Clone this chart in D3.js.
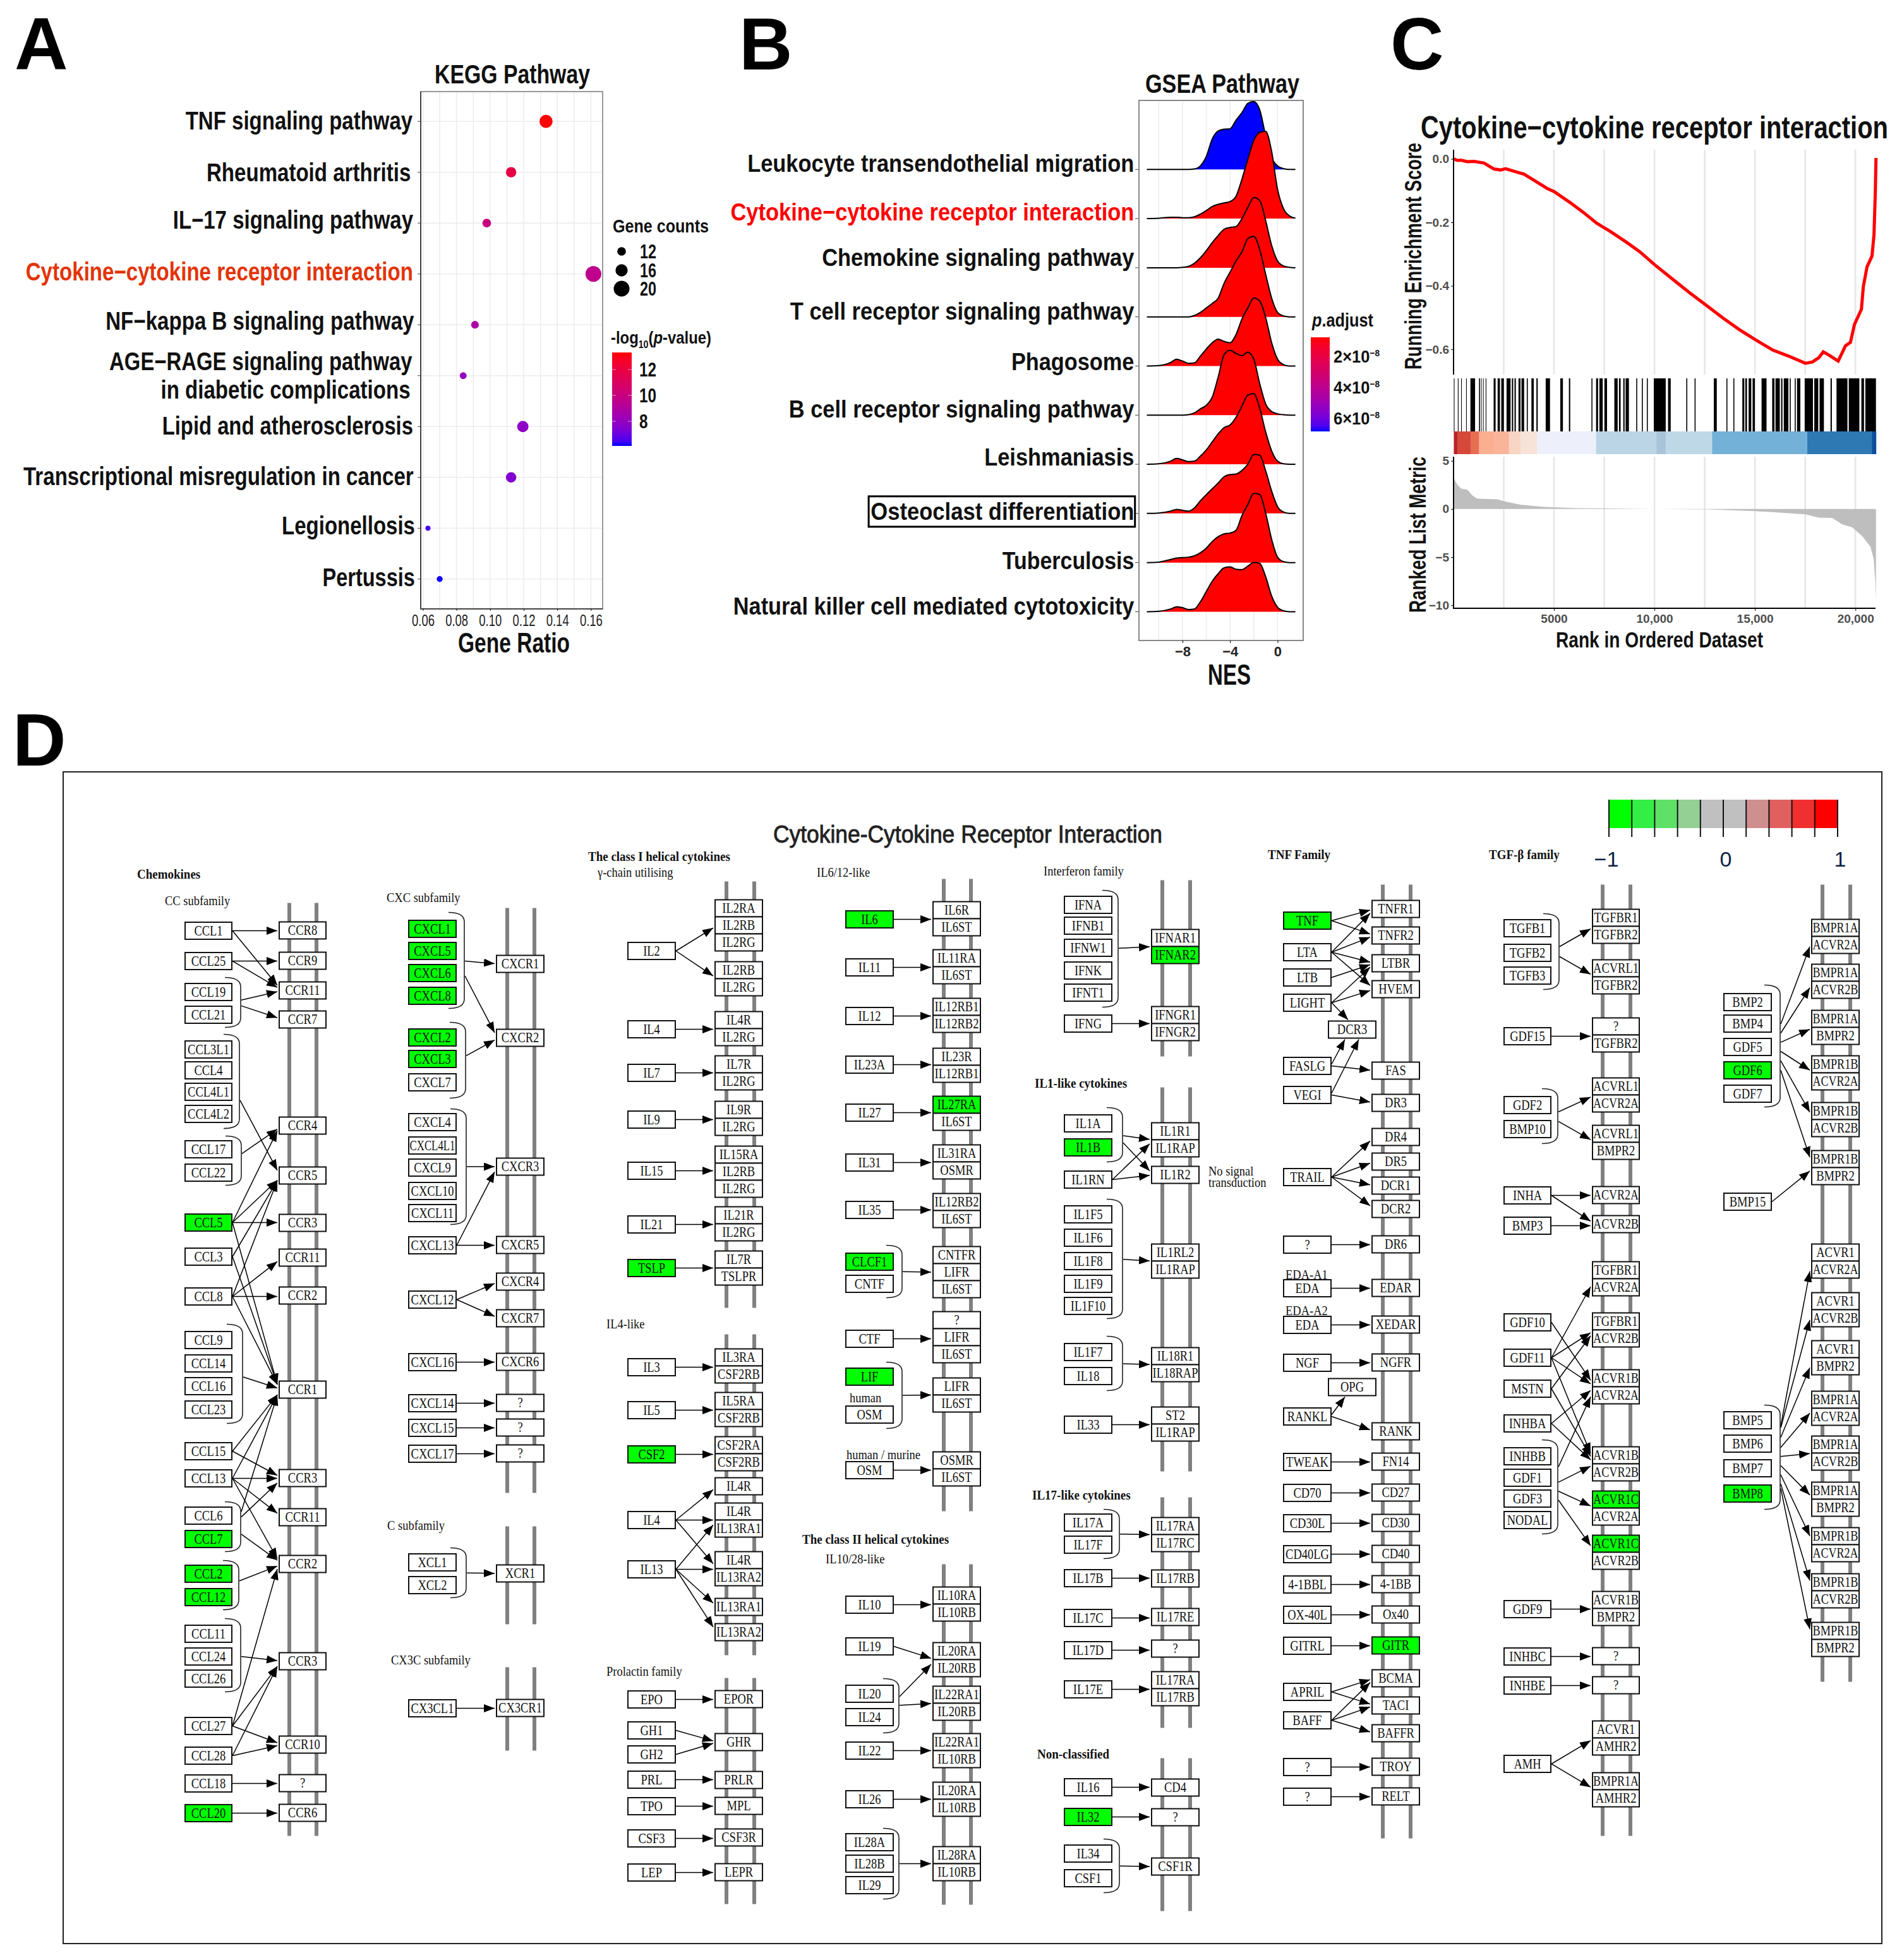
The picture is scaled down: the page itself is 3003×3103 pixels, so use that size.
<!DOCTYPE html>
<html><head><meta charset="utf-8">
<style>html,body{margin:0;padding:0;background:#fff}svg{display:block}</style>
<script src="https://cdn.jsdelivr.net/npm/d3@7/dist/d3.min.js"></script></head><body>
<svg id="c" width="3003" height="3103"></svg>
<script>
// ---------- PANEL A DATA ----------
const keggPathways=["TNF signaling pathway","Rheumatoid arthritis","IL−17 signaling pathway","Cytokine−cytokine receptor interaction","NF−kappa B signaling pathway","AGE−RAGE signaling pathway","Lipid and atherosclerosis","Transcriptional misregulation in cancer","Legionellosis","Pertussis"];
const keggRatio=[0.1333,0.1125,0.098,0.1615,0.091,0.084,0.1195,0.1125,0.063,0.07];
const keggCounts=[17,14,12,20,11,10,15,14,8,9];
const keggLogP=[13.3,11.8,10.0,9.6,8.8,8.0,7.8,7.5,6.5,6.1];
const keggTicks=[0.06,0.08,0.10,0.12,0.14,0.16];
// ---------- PANEL B DATA ----------
const gseaPathways=["Leukocyte transendothelial migration","Cytokine−cytokine receptor interaction","Chemokine signaling pathway","T cell receptor signaling pathway","Phagosome","B cell receptor signaling pathway","Leishmaniasis","Osteoclast differentiation","Tuberculosis","Natural killer cell mediated cytotoxicity"];
const gseaPadj=[6.86e-8,7.8e-9,7.8e-9,7.8e-9,7.8e-9,7.8e-9,7.8e-9,7.8e-9,7.8e-9,7.8e-9];
const nesGrid=[-11,-10,-9,-8.5,-8,-7.5,-7,-6.5,-6,-5.5,-5,-4.5,-4,-3.5,-3,-2.5,-2,-1.5,-1,-0.5,0,0.5,1,1.5];
const densLeukocyte=[0,0,0,0,0,0,1,8,29,68,86,90,91,110,127,148,152,133,75,26,8,2,0,0];
const densCytokine=[0,1,3,3,2,2,4,10,18,27,32,35,38,50,88,133,175,193,195,150,65,22,6,1];
const densChemokine=[0,0,0,0,1,3,10,22,38,56,72,86,90,92,110,135,157,150,105,50,15,4,1,0];
const densTcell=[0,0,0,0,0,0,3,10,20,30,42,75,100,125,145,175,180,150,95,42,10,2,0,0];
const densPhagosome=[0,1,8,15,11,6,7,22,38,52,60,55,52,70,105,130,152,145,108,52,15,3,0,0];
const densBcell=[0,0,0,0,0,1,5,14,22,40,85,135,145,138,133,141,125,70,25,8,3,1,0,0];
const densLeish=[0,1,7,13,10,6,7,18,32,50,68,82,88,105,130,155,158,125,72,30,7,1,0,0];
const densOsteo=[0,1,5,9,7,5,12,28,42,55,68,82,87,88,96,110,132,130,95,50,15,3,0,0];
const densTb=[0,1,7,10,11,12,15,22,32,47,58,64,66,72,105,130,155,152,110,52,12,2,0,0];
const densNK=[0,1,6,11,9,5,6,22,45,68,85,98,100,95,94,102,110,108,78,35,10,2,0,0];
// ---------- PANEL C DATA ----------
const esRank=[16,198,363,693,1023,1518,2013,2343,2591,3168,3498,3993,4653,5000,5809,6469,7129,7789,8614,9274,10000,10924,11749,12492,13399,14224,15000,15875,16700,17508,17855,18185,18399,18680,19142,19505,19752,19950,20297,20396,20578,20825,20924,20990,21023];
const esScore=[0,-.005,-.004,-.009,-.008,-.013,-.032,-.035,-.031,-.042,-.048,-.067,-.093,-.103,-.138,-.169,-.203,-.228,-.263,-.293,-.333,-.380,-.422,-.457,-.501,-.538,-.569,-.602,-.622,-.644,-.640,-.626,-.608,-.618,-.637,-.589,-.578,-.522,-.474,-.401,-.340,-.306,-.239,-.105,.003];
const hitBlocks=[[16,50],[215,250],[380,412],[627,660],[842,1073],[1270,1320],[1370,1400],[1470,1500],[1600,1634],[1997,2095],[2195,2310],[2376,2508],[2640,2838],[2904,2970],[3036,3102],[3234,3333],[3382,3514],[3646,3696],[3877,3993],[4125,4191],[4587,4802],[5313,5445],[5742,5808],[6864,6913],[7095,7194],[7260,7425],[7508,7640],[8003,8168],[8234,8316],[8448,8514],[8563,8728],[9092,9141],[9372,9421],[9620,9669],[9966,10560],[10676,10808],[11583,11633],[11996,12045],[12953,13101],[13580,13629],[13926,13976],[14372,14471],[14520,14603],[14685,14817],[14883,15000],[15329,15576],[15857,15972],[16022,16236],[16302,16368],[16434,16665],[16731,16781],[16979,17028],[17094,17259],[17474,17886],[17952,18150],[18216,18431],[18761,18827],[19058,19602],[19668,20196],[20295,20427],[20493,21021]];
const bandEdges=[16,198,858,1270,2013,2756,3333,4158,7095,10098,10560,12870,17606,20823,21021];
const bandColors=["#b8242a","#d6493a","#e76f51","#fcae91","#f9b49a","#f9d5c4","#f7e3d8","#edf0fb","#bcd5e6","#a8c4d8","#bfd8e8","#74b1d8","#2e78b4","#0c4e9b"];
const metricRank=[16,198,396,693,940,1188,2178,2508,3333,4488,6138,8613,10000,12739,15050,17508,18185,18845,19340,19835,20330,20743,20908,20990,21023];
const metricValue=[3.2,2.5,2.1,2.0,1.4,1.07,1.0,.8,.45,.22,.09,.04,0,-.05,-.22,-.55,-.9,-.93,-1.6,-1.9,-2.8,-3.9,-5.2,-7.5,-9.6];
const rankTicks=[5000,10000,15000,20000], rankGrid=[2500,5000,7500,10000,12500,15000,17500,20000];
// ---------- PANEL D DATA (gene names) ----------
const downGenes=["CCL5","CCL7","CCL2","CCL12","CCL20","CXCL1","CXCL5","CXCL6","CXCL8","CXCL2","CXCL3","TSLP","CSF2","IL6","IL27RA","CLCF1","LIF","IFNAR2","IL1B","IL32","TNF","GITR","GDF6","BMP8","ACVR1C"];
const ccLigands=["CCL1","CCL25","CCL19","CCL21","CCL3L1","CCL4","CCL4L1","CCL4L2","CCL17","CCL22","CCL5","CCL3","CCL8","CCL9","CCL14","CCL16","CCL23","CCL15","CCL13","CCL6","CCL7","CCL2","CCL12","CCL11","CCL24","CCL26","CCL27","CCL28","CCL18","CCL20"];
const ccReceptors=["CCR8","CCR9","CCR11","CCR7","CCR4","CCR5","CCR3","CCR11","CCR2","CCR1","CCR3","CCR11","CCR2","CCR3","CCR10","?","CCR6"];
const cxcLigands=["CXCL1","CXCL5","CXCL6","CXCL8","CXCL2","CXCL3","CXCL7","CXCL4","CXCL4L1","CXCL9","CXCL10","CXCL11","CXCL13","CXCL12","CXCL16","CXCL14","CXCL15","CXCL17","XCL1","XCL2","CX3CL1"];
const cxcReceptors=["CXCR1","CXCR2","CXCR3","CXCR5","CXCR4","CXCR7","CXCR6","?","?","?","XCR1","CX3CR1"];
const class1Ligands=["IL2","IL4","IL7","IL9","IL15","IL21","TSLP","IL3","IL5","CSF2","IL4","IL13","EPO","GH1","GH2","PRL","TPO","CSF3","LEP"];
const class1Receptors=["IL2RA/IL2RB/IL2RG","IL2RB/IL2RG","IL4R/IL2RG","IL7R/IL2RG","IL9R/IL2RG","IL15RA/IL2RB/IL2RG","IL21R/IL2RG","IL7R/TSLPR","IL3RA/CSF2RB","IL5RA/CSF2RB","CSF2RA/CSF2RB","IL4R","IL4R/IL13RA1","IL4R/IL13RA2","IL13RA1","IL13RA2","EPOR","GHR","PRLR","MPL","CSF3R","LEPR"];
const il6Ligands=["IL6","IL11","IL12","IL23A","IL27","IL31","IL35","CLCF1","CNTF","CTF","LIF","OSM","OSM","IL10","IL19","IL20","IL24","IL22","IL26","IL28A","IL28B","IL29"];
const il6Receptors=["IL6R/IL6ST","IL11RA/IL6ST","IL12RB1/IL12RB2","IL23R/IL12RB1","IL27RA/IL6ST","IL31RA/OSMR","IL12RB2/IL6ST","CNTFR/LIFR/IL6ST","?/LIFR/IL6ST","LIFR/IL6ST","OSMR/IL6ST","IL10RA/IL10RB","IL20RA/IL20RB","IL22RA1/IL20RB","IL22RA1/IL10RB","IL20RA/IL10RB","IL28RA/IL10RB"];
const ifnLigands=["IFNA","IFNB1","IFNW1","IFNK","IFNT1","IFNG","IL1A","IL1B","IL1RN","IL1F5","IL1F6","IL1F8","IL1F9","IL1F10","IL1F7","IL18","IL33","IL17A","IL17F","IL17B","IL17C","IL17D","IL17E","IL16","IL32","IL34","CSF1"];
const ifnReceptors=["IFNAR1/IFNAR2","IFNGR1/IFNGR2","IL1R1/IL1RAP","IL1R2","IL1RL2/IL1RAP","IL18R1/IL18RAP","ST2/IL1RAP","IL17RA/IL17RC","IL17RB","IL17RE","?","IL17RA/IL17RB","CD4","?","CSF1R"];
const tnfLigands=["TNF","LTA","LTB","LIGHT","FASLG","VEGI","TRAIL","?","EDA","EDA","NGF","RANKL","TWEAK","CD70","CD30L","CD40LG","4-1BBL","OX-40L","GITRL","APRIL","BAFF","?","?"];
const tnfReceptors=["TNFR1","TNFR2","LTBR","HVEM","FAS","DR3","DR4","DR5","DCR1","DCR2","DR6","EDAR","XEDAR","NGFR","RANK","FN14","CD27","CD30","CD40","4-1BB","Ox40","GITR","BCMA","TACI","BAFFR","TROY","RELT"];
const tnfDecoys=["DCR3","OPG"];
const tgfLigands=["TGFB1","TGFB2","TGFB3","GDF15","GDF2","BMP10","INHA","BMP3","GDF10","GDF11","MSTN","INHBA","INHBB","GDF1","GDF3","NODAL","GDF9","INHBC","INHBE","AMH"];
const tgfReceptors=["TGFBR1/TGFBR2","ACVRL1/TGFBR2","?/TGFBR2","ACVRL1/ACVR2A","ACVRL1/BMPR2","ACVR2A","ACVR2B","TGFBR1/ACVR2A","TGFBR1/ACVR2B","ACVR1B/ACVR2A","ACVR1B/ACVR2B","ACVR1C/ACVR2A","ACVR1C/ACVR2B","ACVR1B/BMPR2","?","?","ACVR1/AMHR2","BMPR1A/AMHR2"];
const bmpLigands=["BMP2","BMP4","GDF5","GDF6","GDF7","BMP15","BMP5","BMP6","BMP7","BMP8"];
const bmpReceptors=["BMPR1A/ACVR2A","BMPR1A/ACVR2B","BMPR1A/BMPR2","BMPR1B/ACVR2A","BMPR1B/ACVR2B","BMPR1B/BMPR2","ACVR1/ACVR2A","ACVR1/ACVR2B","ACVR1/BMPR2","BMPR1A/ACVR2A","BMPR1A/ACVR2B","BMPR1A/BMPR2","BMPR1B/ACVR2A","BMPR1B/ACVR2B","BMPR1B/BMPR2"];
// interaction edges: source>target (#n = nth box with that name in the column, { = bracket)
const ccEdges=["CCL1>CCR8","CCL1>CCR11","CCL25>CCR9","CCL25>CCR11","{CCL19>CCR11","{CCL19>CCR7","{CCL3L1>CCR5","{CCL17>CCR4","CCL5>CCR4","CCL5>CCR5","CCL5>CCR3","CCL5>CCR1","CCL3>CCR5","CCL3>CCR1","CCL8>CCR5","CCL8>CCR11#2","CCL8>CCR2","CCL8>CCR1","{CCL9>CCR1","CCL15>CCR1","CCL15>CCR3#2","CCL13>CCR1","CCL13>CCR3#2","CCL13>CCR11#3","CCL13>CCR2#2","{CCL6>CCR1","{CCL6>CCR3#2","{CCL6>CCR2#2","{CCL2>CCR2#2","{CCL11>CCR3#3","CCL27>CCR2#2","CCL27>CCR3#3","CCL27>CCR10","CCL28>CCR3#3","CCL28>CCR10","CCL18>?","CCL20>CCR6"];
const cxcEdges=["{CXCL1>CXCR1","{CXCL1>CXCR2","{CXCL2>CXCR2","{CXCL4>CXCR3","CXCL13>CXCR3","CXCL13>CXCR5","CXCL12>CXCR4","CXCL12>CXCR7","CXCL16>CXCR6","CXCL14>?","CXCL15>?#2","CXCL17>?#3","{XCL1>XCR1","CX3CL1>CX3CR1"];
const class1Edges=["IL2>IL2RA","IL2>IL2RB","IL4>IL4R","IL7>IL7R","IL9>IL9R","IL15>IL15RA","IL21>IL21R","TSLP>IL7R#2","IL3>IL3RA","IL5>IL5RA","CSF2>CSF2RA","IL4#2>IL4R#2","IL4#2>IL4R#3","IL4#2>IL4R#4","IL13>IL4R#3","IL13>IL4R#4","IL13>IL13RA1","IL13>IL13RA2","EPO>EPOR","GH1>GHR","GH2>GHR","PRL>PRLR","TPO>MPL","CSF3>CSF3R","LEP>LEPR"];
const il6Edges=["IL6>IL6R","IL11>IL11RA","IL12>IL12RB1","IL23A>IL23R","IL27>IL27RA","IL31>IL31RA","IL35>IL12RB2","{CLCF1>CNTFR","CTF>?","{LIF>LIFR","OSM#2>OSMR","IL10>IL10RA","IL19>IL20RA","{IL20>IL20RA","{IL20>IL22RA1","IL22>IL22RA1#2","IL26>IL20RA#2","{IL28A>IL28RA"];
const ifnEdges=["{IFNA>IFNAR1","IFNG>IFNGR1","{IL1A>IL1R1","{IL1A>IL1R2","IL1RN>IL1R1","IL1RN>IL1R2","{IL1F5>IL1RL2","{IL1F7>IL18R1","IL33>ST2","{IL17A>IL17RA","IL17B>IL17RB","IL17C>IL17RE","IL17D>?","IL17E>IL17RA#2","IL16>CD4","IL32>?#2","{IL34>CSF1R"];
const tnfEdges=["TNF>TNFR1","TNF>TNFR2","LTA>TNFR1","LTA>TNFR2","LTA>LTBR","LTA>HVEM","LTB>LTBR","LIGHT>LTBR","LIGHT>HVEM","LIGHT>DCR3","FASLG>DCR3","FASLG>FAS","VEGI>DCR3","VEGI>DR3","TRAIL>DR4","TRAIL>DR5","TRAIL>DCR1","TRAIL>DCR2","?>DR6","EDA>EDAR","EDA#2>XEDAR","NGF>NGFR","RANKL>OPG","RANKL>RANK","TWEAK>FN14","CD70>CD27","CD30L>CD30","CD40LG>CD40","4-1BBL>4-1BB","OX-40L>Ox40","GITRL>GITR","APRIL>BCMA","APRIL>TACI","BAFF>BCMA","BAFF>TACI","BAFF>BAFFR","?#2>TROY","?#3>RELT"];
const tgfEdges=["{TGFB1>TGFBR1","{TGFB1>ACVRL1","GDF15>?","{GDF2>ACVRL1#2","{GDF2>ACVRL1#3","INHA>ACVR2A","INHA>ACVR2B","BMP3>ACVR2B","GDF10>ACVR1B","GDF11>TGFBR1#2","GDF11>TGFBR1#3","GDF11>ACVR1B","GDF11>ACVR1B#2","MSTN>TGFBR1#3","MSTN>ACVR1B#2","INHBA>ACVR1B","INHBA>ACVR1B#2","{INHBB>ACVR1B","{INHBB>ACVR1B#2","{INHBB>ACVR1C","{INHBB>ACVR1C#2","GDF9>ACVR1B#3","INHBC>?#2","INHBE>?#3","AMH>ACVR1","AMH>BMPR1A"];
const bmpEdges=["{BMP2>BMPR1A","{BMP2>BMPR1A#2","{BMP2>BMPR1A#3","{BMP2>BMPR1B","{BMP2>BMPR1B#2","{BMP2>BMPR1B#3","BMP15>BMPR1B#3","{BMP5>ACVR1","{BMP5>ACVR1#2","{BMP5>ACVR1#3","{BMP5>BMPR1A#4","{BMP5>BMPR1A#5","{BMP5>BMPR1A#6","{BMP5>BMPR1B#4","{BMP5>BMPR1B#5","{BMP5>BMPR1B#6"];
const legendScale=["#00ff00","#33ee44","#5fe066","#94cf94","#c0c0c0","#c0c0c0","#cf8f8f","#e06060","#f03030","#ff0000"];

// ---------- LAYOUT (pixel placement of the diagram, not data) ----------
const keggLayout=[
 {names:ccLigands,recs:ccReceptors,edges:ccEdges,ligX:293,recX:442,w:74,
  ligY:[1472,1520,1569,1605,1660,1693,1727,1762,1818,1855,1934,1988,2051,2120,2157,2193,2230,2296,2339,2398,2435,2490,2527,2585,2621,2656,2731,2778,2822,2869],
  recY:[1458,1506,1553,1599,1767,1846,1921,1976,2036,2185,2325,2387,2461,2615,2747,2808,2855],rails:[458,501],spans:[[1428,2905]],
  braces:[["CCL19",381,1546,1625],["CCL3L1",379,1636,1785],["CCL17",382,1797,1875],["CCL9",384,2095,2252],["CCL6",381,2376,2455],["CCL2",378,2469,2547],["CCL11",381,2561,2677]]},
 {names:cxcLigands,recs:cxcReceptors,edges:cxcEdges,ligX:647,recX:786,w:75,
  ligY:[1469,1504,1539,1575,1641,1675,1712,1775,1812,1847,1884,1919,1970,2056,2155,2220,2259,2300,2472,2508,2703],
  recY:[1511,1628,1832,1956,2014,2072,2141,2206,2245,2286,2476,2689],rails:[803,846],spans:[[1436,2362],[2415,2570],[2638,2770]],
  braces:[["CXCL1",735,1443,1595],["CXCL2",737,1617,1737],["CXCL4",738,1754,1937],["XCL1",738,2449,2528]]},
 {names:class1Ligands,recs:class1Receptors,edges:class1Edges,ligX:994,recX:1132,w:75,
  ligY:[1504,1628,1697,1771,1852,1937,2006,2163,2231,2301,2405,2483,2689,2738,2776,2816,2858,2909,2963],
  recY:[1423,1521,1600,1670,1742,1813,1909,1979,2134,2203,2273,2338,2378,2455,2529,2569,2675,2743,2803,2844,2894,2949],rails:[1150,1194],spans:[[1394,2069],[2111,2619],[2655,3013]],braces:[]},
 {names:il6Ligands,recs:il6Receptors,edges:il6Edges,ligX:1339,recX:1477,w:75,
  ligY:[1454,1530,1607,1684,1760,1839,1914,1996,2031,2118,2178,2238,2326,2539,2605,2680,2717,2770,2847,2915,2949,2983],
  recY:[1426,1502,1579,1658,1734,1811,1888,1972,2075,2180,2297,2511,2599,2668,2743,2820,2922],rails:[1494,1537],spans:[[1390,2391],[2475,3014]],
  braces:[["CLCF1",1428,1970,2053],["LIF",1428,2155,2260],["IL20",1423,2656,2742],["IL28A",1423,2893,3005]]},
 {names:ifnLigands,recs:ifnReceptors,edges:ifnEdges,ligX:1685,recX:1823,w:75,
  ligY:[1431,1464,1499,1535,1570,1619,1777,1815,1866,1921,1958,1995,2031,2066,2139,2177,2254,2409,2444,2497,2560,2611,2673,2828,2875,2933,2972],
  recY:[1470,1592,1776,1845,1968,2132,2226,2401,2484,2545,2595,2645,2815,2862,2940],rails:[1840,1884],spans:[[1392,1671],[1720,2328],[2369,2734],[2782,3024]],
  braces:[["IFNA",1770,1408,1593],["IL1A",1777,1752,1838],["IL1F5",1777,1897,2086],["IL1F7",1777,2114,2200],["IL17A",1772,2388,2466],["IL34",1772,2910,2995]]},
 {names:tnfLigands,recs:tnfReceptors,edges:tnfEdges,ligX:2032,recX:2172,w:75,
  ligY:[1456,1506,1546,1586,1686,1732,1862,1969,2038,2096,2156,2241,2313,2362,2410,2459,2507,2555,2604,2677,2722,2796,2843],
  recY:[1424,1466,1510,1551,1680,1731,1785,1824,1862,1899,1955,2024,2082,2142,2251,2299,2348,2396,2445,2493,2541,2590,2642,2685,2729,2782,2829],rails:[2189,2233],spans:[[1399,2909]],braces:[],
  mids:tnfDecoys,midX:2103,midY:[1615,2181]},
 {names:tgfLigands,recs:tgfReceptors,edges:tgfEdges,ligX:2381,recX:2521,w:74,
  ligY:[1468,1507,1543,1639,1748,1786,1891,1939,2092,2148,2197,2252,2304,2338,2371,2405,2546,2621,2667,2791],
  recY:[1438,1518,1610,1705,1780,1877,1923,1996,2077,2167,2289,2359,2429,2518,2607,2653,2723,2805],rails:[2537,2581],spans:[[1399,2905]],
  braces:[["TGFB1",2468,1445,1565],["GDF2",2466,1722,1809],["INHBB",2466,2278,2427]]},
 {names:bmpLigands,recs:bmpReceptors,edges:bmpEdges,ligX:2729,recX:2868,w:75,
  ligY:[1585,1619,1656,1693,1730,1901,2247,2284,2323,2363],
  recY:[1454,1525,1598,1670,1744,1820,1968,2045,2121,2201,2272,2345,2417,2490,2567],rails:[2885,2929],spans:[[1399,2661]],
  braces:[["BMP2",2818,1558,1751],["BMP5",2818,2223,2388]]}
];
const keggHeadings=[["Chemokines",217,1383,1],["CC subfamily",261,1425,0],["CXC subfamily",612,1420,0],["C subfamily",613,2414,0],["CX3C subfamily",619,2627,0],["The class I helical cytokines",931,1355,1],["γ-chain utilising",946,1380,0],["IL6/12-like",1293,1380,0],["IL4-like",960,2095,0],["Prolactin family",960,2645,0],["The class II helical cytokines",1270,2436,1],["IL10/28-like",1307,2467,0],["human",1345,2212,0],["human / murine",1340,2302,0],["Interferon family",1652,1378,0],["IL1-like cytokines",1638,1714,1],["No signal",1913,1853,0],["transduction",1913,1871,0],["TNF Family",2007,1352,1],["EDA-A1",2035,2017,0],["EDA-A2",2035,2074,0],["IL17-like cytokines",1634,2366,1],["Non-classified",1642,2776,1],["TGF-β family",2357,1352,1]];

// ---------- DRAW ----------
const svg=d3.select("#c"), SANS='"Liberation Sans",Arial,sans-serif', SERIF='"Liberation Serif",serif';
const defs=svg.append("defs");
function fit(g,str,x1,x2,cy,size,o={}){
  return g.append("text").attr("x",x1).attr("y",cy+size*0.36).attr("textLength",x2-x1).attr("lengthAdjust","spacingAndGlyphs")
   .attr("font-family",SANS).attr("font-size",size).attr("font-weight",o.weight||"bold").attr("fill",o.fill||"#111").text(str);
}
function panelLetter(s,x,y){svg.append("text").attr("x",x).attr("y",y).attr("font-family",SANS).attr("font-weight","bold").attr("font-size",117).attr("fill","#000").text(s);}
panelLetter("A",23,110);panelLetter("B",1170,110);panelLetter("C",2201,110);panelLetter("D",20,1212);
function gradient(id,c1,c2){const g=defs.append("linearGradient").attr("id",id).attr("x1",0).attr("x2",0).attr("y1",0).attr("y2",1);
 d3.range(0,1.001,.05).forEach(t=>g.append("stop").attr("offset",t).attr("stop-color",d3.interpolateLab(c1,c2)(t)));}
gradient("gradRB","#ff0000","#0000ff");

// ----- Panel A
(function(){
 const zx=v=>v*1160/1568, zy=v=>v*1080/1568, g=svg.append("g");
 const x=d3.scaleLinear().domain([.0587,.167]).range([666,954]);
 const y=d3.scalePoint().domain(keggPathways).range([zy(279),zy(1331)]);
 const r=d3.scaleLinear().domain([8,20]).range([4,12.5]);
 const col=d3.scaleLinear().domain([6.07,13.36]).range(["#0000ff","#ff0000"]).interpolate(d3.interpolateLab);
 d3.range(.06,.1601,.01).forEach(v=>g.append("line").attr("x1",x(v)).attr("x2",x(v)).attr("y1",145).attr("y2",964).attr("stroke","#ececec").attr("stroke-width",1.5));
 keggPathways.forEach(p=>g.append("line").attr("x1",666).attr("x2",954).attr("y1",y(p)).attr("y2",y(p)).attr("stroke","#ececec").attr("stroke-width",1.5));
 g.append("rect").attr("x",666).attr("y",145).attr("width",288).attr("height",819).attr("fill","none").attr("stroke","#999").attr("stroke-width",2);
 g.append("path").attr("d","M666,145V964H954").attr("fill","none").attr("stroke","#444").attr("stroke-width",2);
 keggPathways.forEach((p,i)=>g.append("circle").attr("cx",x(keggRatio[i])).attr("cy",y(p)).attr("r",r(keggCounts[i])).attr("fill",col(keggLogP[i])));
 const ax=g.append("g").attr("transform","translate(0,964)").call(d3.axisBottom(x).tickValues(keggTicks).tickFormat(d3.format(".2f")).tickSize(3).tickPadding(6));
 ax.select(".domain").remove();
 ax.selectAll("text").attr("font-family",SANS).attr("font-size",25).attr("fill","#222").attr("textLength",36).attr("lengthAdjust","spacingAndGlyphs");
 keggPathways.forEach(p=>g.append("line").attr("x1",661).attr("x2",666).attr("y1",y(p)).attr("y2",y(p)).attr("stroke","#444"));
 const spans=[[397,883,276],[442,879,396],[370,884,505],[55,884,623],[226,886,737],[234,882,830],[347,884,978],[50,885,1094],[603,888,1208],[690,888,1327]];
 keggPathways.forEach((p,i)=>{const s=spans[i];fit(g,p,zx(s[0]),zx(s[1]),zy(s[2]),40,{fill:i==3?"#e23408":"#111"});});
 fit(g,"in diabetic complications",zx(344),zx(878),zy(895),40);
 fit(g,"KEGG Pathway",688,934,117,42);
 fit(g,"Gene Ratio",725,902,1017,44);
 fit(g,"Gene counts",970,1122,357,30);
 [12,16,20].forEach((c,i)=>{const cy=[398,428,457][i];g.append("circle").attr("cx",984).attr("cy",cy).attr("r",r(c)).attr("fill","#000");
  fit(g,String(c),1013,1039,cy,31);});
 const t=g.append("text").attr("x",967).attr("y",544).attr("font-family",SANS).attr("font-size",27).attr("font-weight","bold").attr("fill","#111").attr("textLength",159).attr("lengthAdjust","spacingAndGlyphs");
 t.append("tspan").text("-log");t.append("tspan").attr("font-size",16).attr("dy",7).text("10");
 t.append("tspan").attr("dy",-7).text("(");t.append("tspan").attr("font-style","italic").text("p");t.append("tspan").text("-value)");
 g.append("rect").attr("x",969).attr("y",558).attr("width",31).attr("height",148).attr("fill","url(#gradRB)");
 [[12,585],[10,626],[8,667]].forEach(d=>{const s=String(d[0]);fit(g,s,1012,1012+13.5*s.length,d[1],31);
  g.append("line").attr("x1",969).attr("x2",975).attr("y1",d[1]).attr("y2",d[1]).attr("stroke","#fff").attr("opacity",.6);
  g.append("line").attr("x1",994).attr("x2",1000).attr("y1",d[1]).attr("y2",d[1]).attr("stroke","#fff").attr("opacity",.6);});
})();

// ----- Panel B
(function(){
 const zx=v=>1150+v*1000/1568, zy=v=>v*1110/1568, g=svg.append("g");
 const x=d3.scaleLinear().domain([-8,0]).range([zx(1132),zx(1368)]);
 const y=d3.scalePoint().domain(gseaPathways).range([zy(379),zy(1368)]);
 const h=d3.scaleLinear().domain([0,100]).range([0,70.8]);
 const col=d3.scaleLinear().domain([7.8e-9,6.86e-8]).range(["#ff0000","#0000ff"]).interpolate(d3.interpolateLab);
 const dens=[densLeukocyte,densCytokine,densChemokine,densTcell,densPhagosome,densBcell,densLeish,densOsteo,densTb,densNK];
 [-10,-8,-6,-4,-2,0].forEach(v=>g.append("line").attr("x1",x(v)).attr("x2",x(v)).attr("y1",159).attr("y2",1014).attr("stroke","#ececec").attr("stroke-width",1.5));
 gseaPathways.forEach((p,i)=>{
  const b=y(p),pts=nesGrid.map((n,j)=>[x(n),b-h(dens[i][j])]);
  g.append("path").attr("d",d3.area().x(d=>d[0]).y0(b).y1(d=>d[1]).curve(d3.curveMonotoneX)(pts)).attr("fill",col(gseaPadj[i]));
  g.append("path").attr("d",d3.line().curve(d3.curveMonotoneX)(pts)).attr("fill","none").attr("stroke","#000").attr("stroke-width",2);
  g.append("line").attr("x1",1797).attr("x2",1803).attr("y1",b).attr("y2",b).attr("stroke","#444");
 });
 g.append("rect").attr("x",1803).attr("y",159).attr("width",260).attr("height",855).attr("fill","none").attr("stroke","#888").attr("stroke-width",2);
 const ax=g.append("g").attr("transform","translate(0,1014)").call(d3.axisBottom(x).tickValues([-8,-4,0]).tickFormat(d3.format("d")).tickSize(4).tickPadding(5));
 ax.select(".domain").remove();
 ax.selectAll("text").attr("font-family",SANS).attr("font-size",22).attr("font-weight","bold").attr("fill","#222");
 const spans=[[52,365],[10,473],[237,575],[158,695],[707,808],[155,915],[640,1022],[358,1143],[685,1253],[17,1355]];
 gseaPathways.forEach((p,i)=>fit(g,p,zx(spans[i][0]),zx(1012),zy(spans[i][1]),38,{fill:i==1?"#f00":"#111"}));
 g.append("rect").attr("x",zx(353)).attr("y",zy(1110)).attr("width",zx(1014)-zx(353)).attr("height",zy(1178)-zy(1110)).attr("fill","none").attr("stroke","#000").attr("stroke-width",3);
 fit(g,"GSEA Pathway",1813,2057,132,42);
 fit(g,"NES",1912,1980,1067,46);
 const t=g.append("text").attr("x",2077).attr("y",517).attr("font-family",SANS).attr("font-size",29).attr("font-weight","bold").attr("textLength",97).attr("lengthAdjust","spacingAndGlyphs").attr("fill","#111");
 t.append("tspan").attr("font-style","italic").text("p");t.append("tspan").text(".adjust");
 g.append("rect").attr("x",2075).attr("y",534).attr("width",30).attr("height",149).attr("fill","url(#gradRB)");
 [[2,564],[4,613],[6,662]].forEach(d=>{
  const l=g.append("text").attr("x",2111).attr("y",d[1]+10).attr("font-family",SANS).attr("font-size",28).attr("font-weight","bold").attr("fill","#111").attr("textLength",73).attr("lengthAdjust","spacingAndGlyphs");
  l.append("tspan").text(d[0]+"×10");l.append("tspan").attr("font-size",15).attr("dy",-10).text("−8");
 });
})();

// ----- Panel C
(function(){
 const g=svg.append("g");
 const x=d3.scaleLinear().domain([5000,20000]).range([2460,2937.2]);
 const y=d3.scaleLinear().domain([0,-.6]).range([251.5,553]);
 const ym=d3.scaleLinear().domain([5,0,-10]).range([729.6,805.8,958.2]);
 [[237,593],[723,963]].forEach(s=>rankGrid.forEach(v=>g.append("line").attr("x1",x(v)).attr("x2",x(v)).attr("y1",s[0]).attr("y2",s[1]).attr("stroke","#e6e6e6").attr("stroke-width",2.5)));
 g.append("path").attr("d",d3.line().x((d,i)=>x(esRank[i])).y(d=>y(d))(esScore)).attr("fill","none").attr("stroke","#f00").attr("stroke-width",5);
 hitBlocks.forEach(b=>g.append("rect").attr("x",x(b[0])).attr("width",x(b[1])-x(b[0])).attr("y",599).attr("height",84).attr("fill","#000"));
 bandColors.forEach((c,i)=>g.append("rect").attr("x",x(bandEdges[i])).attr("width",x(bandEdges[i+1])-x(bandEdges[i])+.5).attr("y",683).attr("height",36).attr("fill",c));
 g.append("path").attr("d",d3.area().x((d,i)=>x(metricRank[i])).y0(ym(0)).y1(d=>ym(d))(metricValue)).attr("fill","#bebebe");
 const lab=s=>s.selectAll("text").attr("font-family",SANS).attr("font-size",19).attr("font-weight","bold").attr("fill","#4d4d4d");
 const a1=g.append("g").attr("transform","translate(2301,0)").call(d3.axisLeft(y).tickValues([0,-.2,-.4,-.6]).tickFormat(d3.format(".1f")).tickSize(4).tickPadding(3));
 a1.select(".domain").remove();lab(a1);
 g.append("line").attr("x1",2301).attr("x2",2301).attr("y1",237).attr("y2",593).attr("stroke","#000").attr("stroke-width",2);
 const a2=g.append("g").attr("transform","translate(2301,0)").call(d3.axisLeft(ym).tickValues([5,0,-5,-10]).tickFormat(d3.format("d")).tickSize(4).tickPadding(3));
 a2.select(".domain").remove();lab(a2);
 g.append("path").attr("d","M2301,723V963H2969").attr("fill","none").attr("stroke","#000").attr("stroke-width",2);
 const a3=g.append("g").attr("transform","translate(0,963)").call(d3.axisBottom(x).tickValues(rankTicks).tickFormat(d3.format(",")).tickSize(4).tickPadding(6));
 a3.select(".domain").remove();a3.selectAll("text").text(d=>d==5000?"5000":d3.format(",")(d));lab(a3);
 fit(g,"Cytokine−cytokine receptor interaction",2249,2989,201,50);
 fit(g,"Rank in Ordered Dataset",2463,2791,1012,35);
 const rot=(s,cx,y1,y2,size)=>{g.append("text").attr("transform",`translate(${cx+size*.36},${y2}) rotate(-90)`).attr("textLength",y2-y1).attr("lengthAdjust","spacingAndGlyphs").attr("font-family",SANS).attr("font-weight","bold").attr("font-size",size).attr("fill","#111").text(s);};
 rot("Running Enrichment Score",2237,226,585,36);
 rot("Ranked List Metric",2244,723,970,36);
})();

// ----- Panel D
(function(){
 const frame=svg.append("g"), g=svg.append("g").attr("transform","translate(0,1.5)");
 const k=d3.scaleLinear().domain([0,3003]).range([0,3003]);
 frame.append("rect").attr("x",k(100)).attr("y",k(1222)).attr("width",k(2979)-k(100)).attr("height",k(3077)-k(1222)).attr("fill","#fff").attr("stroke","#222").attr("stroke-width",2);
 frame.append("text").attr("x",k(1532)).attr("y",k(1334)).attr("text-anchor","middle").attr("font-family",SANS).attr("font-size",38).attr("fill","#222").attr("stroke","#222").attr("stroke-width",.9).attr("textLength",616).attr("lengthAdjust","spacingAndGlyphs").text("Cytokine-Cytokine Receptor Interaction");
 // colour key
 const lx=d3.scaleLinear().domain([0,10]).range([2547,2909]);
 legendScale.forEach((c,i)=>frame.append("rect").attr("x",lx(i)).attr("y",1266).attr("width",lx(1)-lx(0)).attr("height",45).attr("fill",c));
 d3.range(0,11).forEach(i=>frame.append("line").attr("x1",lx(i)).attr("x2",lx(i)).attr("y1",1266).attr("y2",1325).attr("stroke","#111").attr("stroke-width",2));
 [["−1",2543],["0",2732],["1",2913]].forEach(d=>frame.append("text").attr("x",d[1]).attr("y",1372).attr("text-anchor","middle").attr("font-family",SANS).attr("font-size",34).attr("fill","#0b2444").text(d[0]));
 // headings
 keggHeadings.forEach(d=>g.append("text").attr("transform",`translate(${k(d[1])},${k(d[2])+6}) scale(1,1.15)`).attr("font-family",SERIF).attr("font-size",d[3]?19:18.5).attr("font-weight",d[3]?"bold":"normal").attr("fill","#111").text(d[0]));
 const H=27,U=27;
 const marker=defs.append("marker").attr("id","arr").attr("markerUnits","userSpaceOnUse").attr("markerWidth",18).attr("markerHeight",14).attr("refX",17).attr("refY",6.5).attr("orient","auto");
 marker.append("path").attr("d","M0,0L17,6.5L0,13Z").attr("fill","#000");
 function label(sel,s,cx,cy){
  const t=sel.append("text").attr("transform",`translate(${cx},${cy+7}) scale(1,1.25)`).attr("text-anchor","middle").attr("font-family",SERIF).attr("font-size",18.5).attr("fill","#111").text(s);
  const L=t.node().getComputedTextLength();
  if(L>72) t.attr("textLength",72).attr("lengthAdjust","spacingAndGlyphs");
 }
 function box(s,x,y,w,h){
  g.append("rect").attr("x",k(x)).attr("y",k(y)).attr("width",w).attr("height",h).attr("fill",downGenes.includes(s)?"#00ff00":"#fff").attr("stroke","#111").attr("stroke-width",2);
  label(g,s,k(x)+w/2,k(y)+h/2);
 }
 keggLayout.forEach(col=>{
  const nodes={},count={};
  const reg=(n,o)=>{count[n]=(count[n]||0)+1;nodes[count[n]>1?n+"#"+count[n]:n]=o;};
  col.rails.forEach(rx=>col.spans.forEach(sp=>g.append("line").attr("x1",k(rx)).attr("x2",k(rx)).attr("y1",k(sp[0])).attr("y2",k(sp[1])).attr("stroke","#808080").attr("stroke-width",6)));
  col.names.forEach((n,i)=>reg(n,{x:col.ligX,y:col.ligY[i],right:col.ligX+col.w,h:H}));
  col.recs.forEach((n,i)=>{const parts=n.split("/"),hh=parts.length*U;reg(parts[0],{x:col.recX,y:col.recY[i]+hh/2,right:col.recX+col.w,h:hh});});
  (col.mids||[]).forEach((n,i)=>reg(n,{x:col.midX,y:col.midY[i]+H/2,right:col.midX+col.w,h:H,mid:true}));
  (col.braces||[]).forEach(b=>{
   const [n,bx,y1,y2]=b;nodes["{"+n]={x:bx,y:(y1+y2)/2,right:bx,h:y2-y1,brace:true};
   g.append("path").attr("d",`M${k(bx-25)},${k(y1)}Q${k(bx)},${k(y1)} ${k(bx)},${k(y1+15)}V${k(y2-15)}Q${k(bx)},${k(y2)} ${k(bx-25)},${k(y2)}`).attr("fill","none").attr("stroke","#222").attr("stroke-width",1.6);
  });
  col.names.forEach((n,i)=>box(n,col.ligX,col.ligY[i]-H/2,col.w,H));
  col.recs.forEach((n,i)=>n.split("/").forEach((p,j)=>box(p,col.recX,col.recY[i]+j*U,col.w,U)));
  (col.mids||[]).forEach((n,i)=>box(n,col.midX,col.midY[i],col.w,H));
  col.edges.forEach(e=>{
   const [a,b]=e.split(">"),s=nodes[a],t=nodes[b];
   if(!s||!t){console.warn("edge?",e);return;}
   let x1=s.right+1,y1=s.y,x2,y2;
   if(t.mid){
     const above=s.y<t.y;
     x2=t.x+(a=="VEGI"?48:(a=="LIGHT"?31:26));y2=above?t.y-t.h/2-2:t.y+t.h/2+2;
     y1=above?s.y:s.y-3;
   } else {
     x2=t.x-3;
     const lim=t.h*.3;
     y2=t.y+Math.max(-lim,Math.min(lim,(s.y-t.y)*.1));
     if(s.brace){const l2=s.h*.3;y1=s.y+Math.max(-l2,Math.min(l2,(t.y-s.y)*.2));}
     else if(Math.abs(s.y-t.y)<4){y2=s.y;}
   }
   g.append("line").attr("x1",k(x1)).attr("y1",k(y1)).attr("x2",k(x2)).attr("y2",k(y2)).attr("stroke","#000").attr("stroke-width",1.5).attr("marker-end","url(#arr)");
  });
 });
})();
</script></body></html>
